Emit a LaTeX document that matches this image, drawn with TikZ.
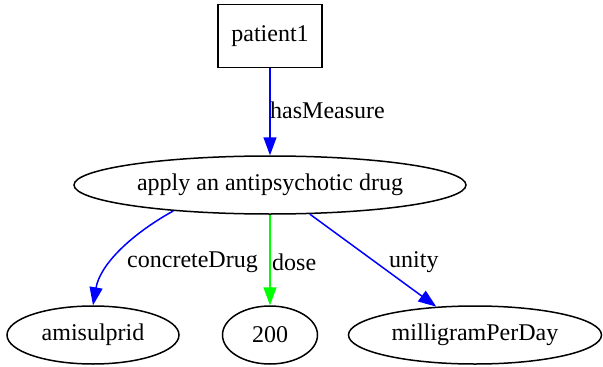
\documentclass[tikz,border=0pt]{standalone}
\usepackage{fontspec}
\setmainfont{Liberation Serif}
\usetikzlibrary{arrows.meta,shapes.geometric}

\begin{document}
\begin{tikzpicture}[x=1pt,y=-1pt,
  font=\fontsize{24}{28}\selectfont,
  box/.style={draw, line width=1.5pt, rectangle, minimum width=104pt, minimum height=63pt, inner sep=0pt},
  oval/.style={draw, line width=1.5pt, ellipse, minimum height=58pt, inner sep=0pt},
  rel/.style={line width=1.5pt, -{Triangle[length=18pt,width=13pt]}},
  lbl/.style={inner sep=0pt, anchor=west}]
\useasboundingbox (0,0) rectangle (603,367);
\node[box] (patient) at (270,36) {patient1};
\node[oval, minimum width=392pt] (apply) at (270,185) {apply an antipsychotic drug};
\node[oval, minimum width=172pt] (amisulprid) at (93,335) {amisulprid};
\node[oval, minimum width=95pt] (dose) at (270,335) {200};
\node[oval, minimum width=253pt] (unit) at (475,335) {milligramPerDay};
\draw[rel, blue] (patient) -- (apply);
\node[lbl] (hasMeasure) at (270,110) {hasMeasure};
\draw[rel, blue] (apply.195) .. controls (130,235) and (100,265) .. (amisulprid.north);
\node[lbl] (concreteDrug) at (127,262) {concreteDrug};
\draw[rel, green] (apply) -- (dose);
\node[lbl] (doseLbl) at (272,262) {dose};
\draw[rel, blue] (apply) -- (unit);
\node[lbl] (unity) at (389,262) {unity};
\end{tikzpicture}
\end{document}
